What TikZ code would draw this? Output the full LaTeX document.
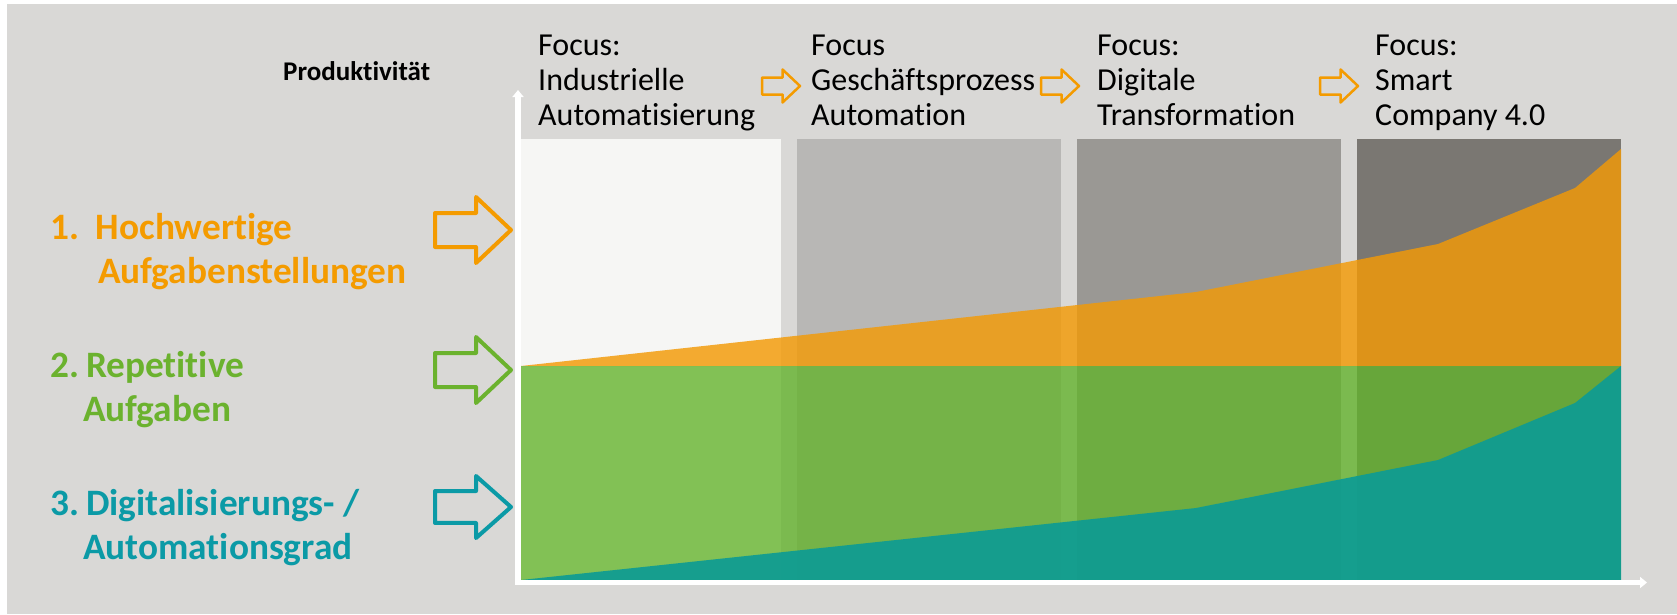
\documentclass[tikz,border=0pt]{standalone}
\usepackage{fontspec}
\setmainfont{Carlito}[Ligatures={NoCommon,NoRare}]
\usetikzlibrary{arrows.meta}
\definecolor{bg}{HTML}{D9D8D6}
\definecolor{pone}{HTML}{F6F6F4}
\definecolor{ptwo}{HTML}{B8B7B5}
\definecolor{pthree}{HTML}{9A9894}
\definecolor{pfour}{HTML}{7A7772}
\definecolor{orarea}{HTML}{F39A06}
\definecolor{grarea}{HTML}{63B32B}
\definecolor{tearea}{HTML}{0B9B95}
\definecolor{ortext}{HTML}{F49B00}
\definecolor{grtext}{HTML}{6BB22E}
\definecolor{tetext}{HTML}{0B9AA6}
\newcommand\threelines[3]{\vtop{\hbox{#1}\hbox{#2}\hbox{#3}}}
\newcommand\twolines[2]{\vtop{\hbox{#1}\hbox{#2}}}
\tikzset{
  panel/.style={fill=#1, draw=none},
  toplabel/.style={anchor=base west, inner sep=0pt, text=black,
    font=\fontsize{32}{35}\selectfont},
  sidelabel/.style={anchor=base west, inner sep=0pt, text=#1,
    font=\fontsize{37.3}{44}\selectfont\bfseries},
  axisline/.style={draw=white, line width=5.5pt,
    -{Triangle[length=7pt,width=11pt]}},
  blockarr/.pic={
    \draw[pic actions] (-76,-17) -- (-35,-17) -- (-35,-33) -- (0,0)
      -- (-35,33) -- (-35,17) -- (-76,17) -- cycle;
  },
  bigarr/.style={line width=4pt, line join=round, draw=#1},
  smallarr/.style={line width=2.5pt, line join=round, draw=ortext, scale=0.5}
}
\begin{document}
\begin{tikzpicture}[x=1pt,y=-1pt]
\useasboundingbox (0,0) rectangle (1677,614);
\fill[white] (0,0) rectangle (1677,614);
\fill[bg] (7,4) rectangle (1677,614);
% panels
\path[panel=pone] (521,139) rectangle (781,580);
\path[panel=ptwo] (797,139) rectangle (1061,580);
\path[panel=pthree] (1077,139) rectangle (1341,580);
\path[panel=pfour] (1357,139) rectangle (1621,580);
% areas
\fill[orarea, fill opacity=0.82] (521,366) -- (1196,292) -- (1438,244) -- (1575,188)
  -- (1621,149) -- (1621,366) -- cycle;
\fill[grarea, fill opacity=0.79] (521,366) rectangle (1621,580);
\fill[tearea, fill opacity=0.9] (521,580) -- (1196,508) -- (1438,460) -- (1575,403)
  -- (1621,366) -- (1621,580) -- cycle;
% axes
\coordinate (O) at (518,582.5);
\coordinate (ytip) at (518,90);
\coordinate (xtip) at (1647,582.5);
\coordinate (ybot) at (518,585);
\coordinate (xstart) at (515,582.5);
\draw[axisline] (ybot) -- (ytip);
\draw[axisline] (xstart) -- (xtip);
% top labels
\node[anchor=base west, inner sep=0pt, font=\fontsize{27}{33}\selectfont\bfseries]
  (prod) at (283,80) {Produktivität};
\node[toplabel] (f1) at (538,55) {\threelines{Focus:}{Industrielle}{Automatisierung}};
\node[toplabel] (f2) at (811,55) {\threelines{Focus}{Geschäftsprozess}{Automation}};
\node[toplabel] (f3) at (1097,55) {\threelines{Focus:}{Digitale}{Transformation}};
\node[toplabel] (f4) at (1375,55) {\threelines{Focus:}{Smart}{Company 4.0}};
% small arrows
\pic[smallarr] (sa1) at (800,86) {blockarr};
\pic[smallarr] (sa2) at (1079,86) {blockarr};
\pic[smallarr] (sa3) at (1358,86) {blockarr};
% side labels
\node[sidelabel=ortext] (l1) at (50,239)
  {\twolines{1.\ \ Hochwertige}{\hspace*{48pt}Aufgabenstellungen}};
\node[sidelabel=grtext] (l2) at (50,377)
  {\twolines{2.\hspace{7pt}Repetitive}{\hspace*{33pt}Aufgaben}};
\node[sidelabel=tetext] (l3) at (50,515)
  {\twolines{3.\hspace{7pt}Digitalisierungs- /}{\hspace*{33pt}Automationsgrad}};
% big arrows
\pic[bigarr=ortext] (ba1) at (511,230) {blockarr};
\pic[bigarr=grtext] (ba2) at (511,370) {blockarr};
\pic[bigarr=tetext, yscale=0.94] (ba3) at (511,507) {blockarr};
\end{tikzpicture}
\end{document}
